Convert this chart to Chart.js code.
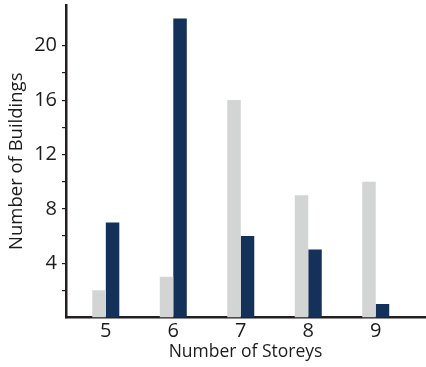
<!DOCTYPE html>
<html>
<head>
<meta charset="utf-8">
<script src="https://cdn.jsdelivr.net/npm/chart.js@4"></script>
<style>
html,body{margin:0;padding:0;background:#fff;}
#wrap{width:426px;height:367px;}
</style>
</head>
<body>
<div id="wrap"><canvas id="c" width="426" height="367"></canvas></div>
<script>
const storeys = [5, 6, 7, 8, 9];
const seriesGray = [2, 3, 16, 9, 10];
const seriesNavy = [7, 22, 6, 5, 1];
const yTickLabels = [4, 8, 12, 16, 20];

const FONT = "'Open Sans', sans-serif";
const AXIS = '#231f20';
const TEXT = '#1e1b1c';

new Chart(document.getElementById('c'), {
  type: 'bar',
  data: {
    datasets: [
      { label: 'A', data: storeys.map((s, i) => ({x: s, y: seriesGray[i]})), backgroundColor: '#d3d4d4', borderWidth: 0 },
      { label: 'B', data: storeys.map((s, i) => ({x: s, y: seriesNavy[i]})), backgroundColor: '#14315a', borderWidth: 0 }
    ]
  },
  options: {
    responsive: false,
    animation: false,
    layout: { padding: { top: 5, right: 1, left: 0, bottom: 0 } },
    datasets: { bar: { categoryPercentage: 0.4, barPercentage: 1.0 } },
    plugins: { legend: { display: false }, tooltip: { enabled: false } },
    scales: {
      x: {
        type: 'linear',
        min: 4.41,
        max: 9.73,
        offset: false,
        afterFit: s => { s.height = 49.5; s.paddingLeft = 0; s.paddingRight = 0; },
        grid: { display: false, drawTicks: false },
        border: { display: true, color: AXIS, width: 2.5 },
        ticks: { stepSize: 1, includeBounds: false, padding: 2, color: TEXT, font: { family: FONT, size: 20 } },
        title: { display: true, text: 'Number of Storeys', color: TEXT, font: { family: FONT, size: 17.5 }, padding: { top: 0, bottom: 4 } }
      },
      y: {
        min: 0,
        max: 23,
        afterFit: s => { s.width = 66; s.paddingTop = 0; s.paddingBottom = 0; },
        grid: { display: true, drawOnChartArea: false, drawTicks: true, tickLength: 4, color: AXIS, lineWidth: 1.2 },
        border: { display: true, color: AXIS, width: 2.5 },
        ticks: {
          stepSize: 2,
          padding: 5,
          color: TEXT,
          font: { family: FONT, size: 20 },
          callback: v => yTickLabels.includes(v) ? String(v) : ''
        },
        afterBuildTicks: s => { s.ticks = s.ticks.filter(t => t.value > 0 && t.value <= 22); },
        title: { display: true, text: 'Number of Buildings', color: TEXT, font: { family: FONT, size: 18.5 }, padding: { top: 6, bottom: 0 } }
      }
    }
  }
});
</script>
</body>
</html>
